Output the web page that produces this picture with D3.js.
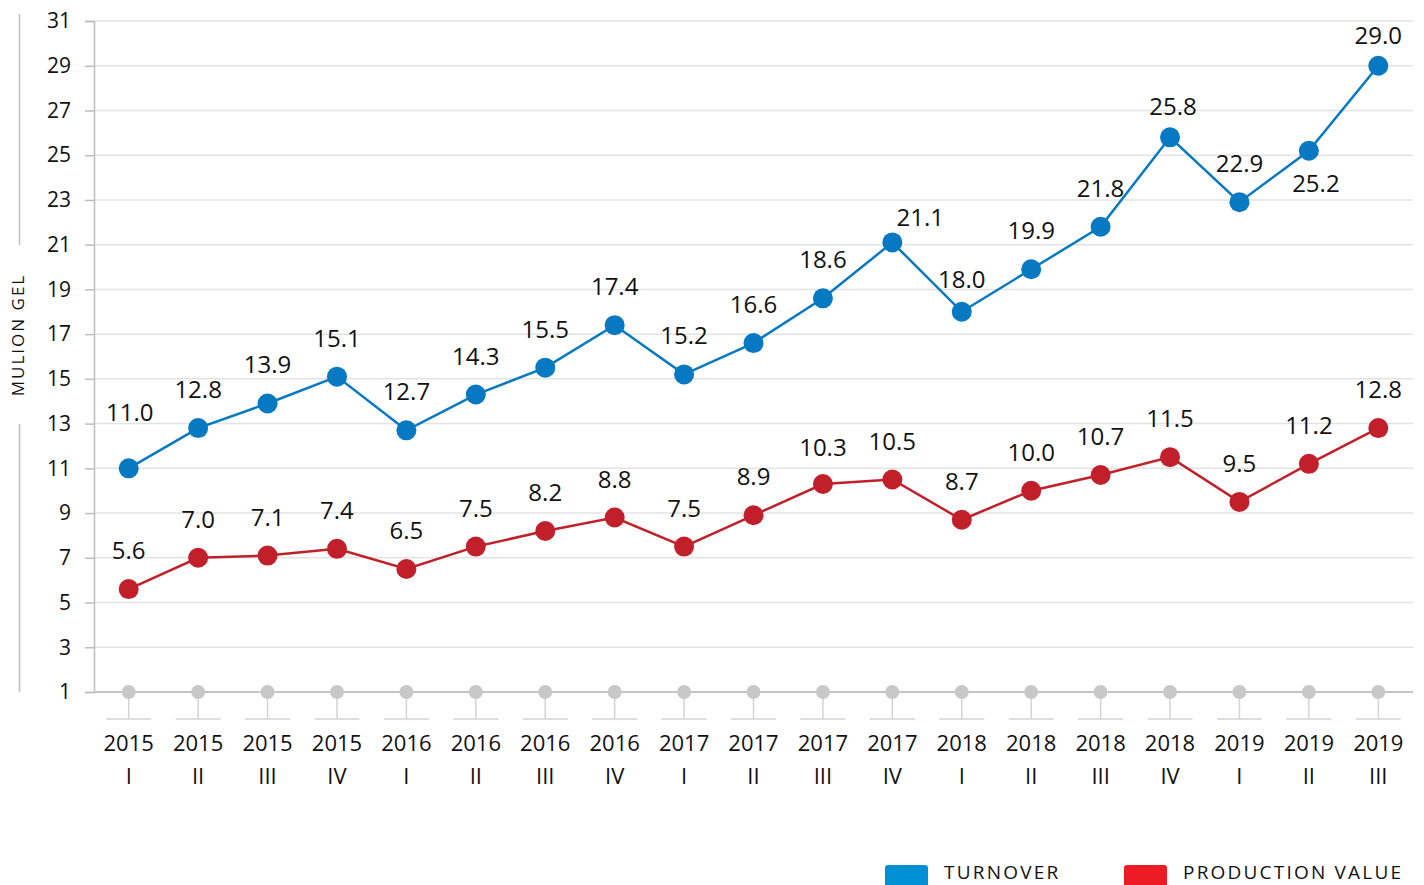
<!DOCTYPE html>
<html>
<head>
<meta charset="utf-8">
<script src="https://cdn.jsdelivr.net/npm/d3@7"></script>
<style>
  html, body { margin: 0; padding: 0; background: #fff; }
  svg { display: block; }
  text { font-family: "Open Sans", "Noto Sans", sans-serif; fill: #111; }
</style>
</head>
<body>
<svg id="chart" width="1424" height="885"></svg>
<script>
// ---- data ----
const years = ["2015","2015","2015","2015","2016","2016","2016","2016","2017","2017","2017","2017","2018","2018","2018","2018","2019","2019","2019"];
const quarters = ["I","II","III","IV","I","II","III","IV","I","II","III","IV","I","II","III","IV","I","II","III"];
const turnover = [11.0,12.8,13.9,15.1,12.7,14.3,15.5,17.4,15.2,16.6,18.6,21.1,18.0,19.9,21.8,25.8,22.9,25.2,29.0];
const productionValue = [5.6,7.0,7.1,7.4,6.5,7.5,8.2,8.8,7.5,8.9,10.3,10.5,8.7,10.0,10.7,11.5,9.5,11.2,12.8];
const yTicks = [1,3,5,7,9,11,13,15,17,19,21,23,25,27,29,31];
const seriesNames = ["TURNOVER","PRODUCTION VALUE"];
const axisTitle = "MULION GEL";

// ---- label placement tweaks (style) ----
const labelAdjust = {
  "t0": {dx: 1, dy: -17},
  "t11": {dx: 28, dy: 14},
  "t12": {dx: 0, dy: 6},
  "t15": {dx: 3, dy: 8},
  "t16": {dx: 0, dy: 0},
  "t17": {dx: 7, dy: 71},
  "t18": {dx: 0, dy: 8},
  "p10": {dx: 0, dy: 2}
};

const svg = d3.select("#chart");
const plotLeft = 94, plotRight = 1413, plotTop = 21, plotBottom = 692;

const x = d3.scalePoint().domain(d3.range(years.length)).range([plotLeft, plotRight]).padding(0.5);
const y = d3.scaleLinear().domain([1, 31]).range([plotBottom, plotTop]);

// gridlines
svg.append("g").selectAll("line").data(yTicks.filter(d => d > 1)).join("line")
  .attr("x1", plotLeft).attr("x2", plotRight)
  .attr("y1", d => y(d)).attr("y2", d => y(d))
  .attr("stroke", "#e3e3e3").attr("stroke-width", 1.5);

// y axis
const yAxis = d3.axisLeft(y).tickValues(yTicks).tickSize(9).tickPadding(14);
const gy = svg.append("g").attr("transform", `translate(${plotLeft},0)`).call(yAxis);
gy.select(".domain").attr("stroke", "#bdbdbd").attr("stroke-width", 1.5);
gy.selectAll(".tick line").attr("stroke", "#bdbdbd").attr("stroke-width", 1.5);
gy.selectAll(".tick text").attr("font-size", 21).attr("fill", "#111")
  .attr("font-family", "'Open Sans', sans-serif");

// baseline
svg.append("line").attr("x1", plotLeft).attr("x2", plotRight).attr("y1", y(1)).attr("y2", y(1))
  .attr("stroke", "#c4c4c4").attr("stroke-width", 2);

// category stems
const cat = svg.append("g");
cat.selectAll("line.stem").data(d3.range(years.length)).join("line").attr("class","stem")
  .attr("x1", d => x(d)).attr("x2", d => x(d)).attr("y1", y(1)).attr("y2", 719)
  .attr("stroke", "#d3d3d3").attr("stroke-width", 1.5);
cat.selectAll("line.bar").data(d3.range(years.length)).join("line").attr("class","bar")
  .attr("x1", d => x(d) - 22.5).attr("x2", d => x(d) + 22.5).attr("y1", 719).attr("y2", 719)
  .attr("stroke", "#d3d3d3").attr("stroke-width", 1.5);
cat.selectAll("circle").data(d3.range(years.length)).join("circle")
  .attr("cx", d => x(d)).attr("cy", y(1)).attr("r", 7).attr("fill", "#c8c8c8");
cat.selectAll("text.yr").data(years).join("text").attr("class","yr")
  .attr("x", (d,i) => x(i)).attr("y", 751).attr("text-anchor","middle")
  .attr("font-size", 22).text(d => d);
cat.selectAll("text.q").data(quarters).join("text").attr("class","q")
  .attr("x", (d,i) => x(i)).attr("y", 784).attr("text-anchor","middle")
  .attr("font-size", 22).text(d => d);

// y axis title
svg.append("text").attr("transform", `translate(24,335) rotate(-90)`)
  .attr("text-anchor","middle").attr("font-size", 17).attr("letter-spacing", 2)
  .text(axisTitle);
svg.append("line").attr("x1",19.5).attr("x2",19.5).attr("y1",14).attr("y2",245)
  .attr("stroke","#bdbdbd").attr("stroke-width",1.5);
svg.append("line").attr("x1",19.5).attr("x2",19.5).attr("y1",424).attr("y2",692)
  .attr("stroke","#bdbdbd").attr("stroke-width",1.5);

// series
const series = [
  {key: "t", values: turnover, color: "#0779c3"},
  {key: "p", values: productionValue, color: "#c1202a"}
];
const line = d3.line().x((d,i) => x(i)).y(d => y(d));
series.forEach(s => {
  const g = svg.append("g");
  g.append("path").datum(s.values).attr("d", line)
    .attr("fill","none").attr("stroke", s.color).attr("stroke-width", 2.5);
  g.selectAll("circle").data(s.values).join("circle")
    .attr("cx", (d,i) => x(i)).attr("cy", d => y(d)).attr("r", 10).attr("fill", s.color);
  g.selectAll("text").data(s.values).join("text")
    .attr("x", (d,i) => x(i) + ((labelAdjust[s.key+i]||{}).dx || 0))
    .attr("y", (d,i) => y(d) - 30 + ((labelAdjust[s.key+i]||{}).dy || 0))
    .attr("text-anchor","middle").attr("font-size", 24)
    .text(d => d.toFixed(1));
});

// legend
const legendColors = ["#0091d5", "#ed1c24"];
const legendX = [885, 1124];
const lg = svg.append("g");
seriesNames.forEach((n, i) => {
  lg.append("rect").attr("x", legendX[i]).attr("y", 865).attr("width", 43).attr("height", 26)
    .attr("rx", 3).attr("fill", legendColors[i]);
  lg.append("text").attr("x", legendX[i] + 59).attr("y", 879)
    .attr("font-size", 19).attr("letter-spacing", 2.2).text(n);
});
</script>
</body>
</html>
